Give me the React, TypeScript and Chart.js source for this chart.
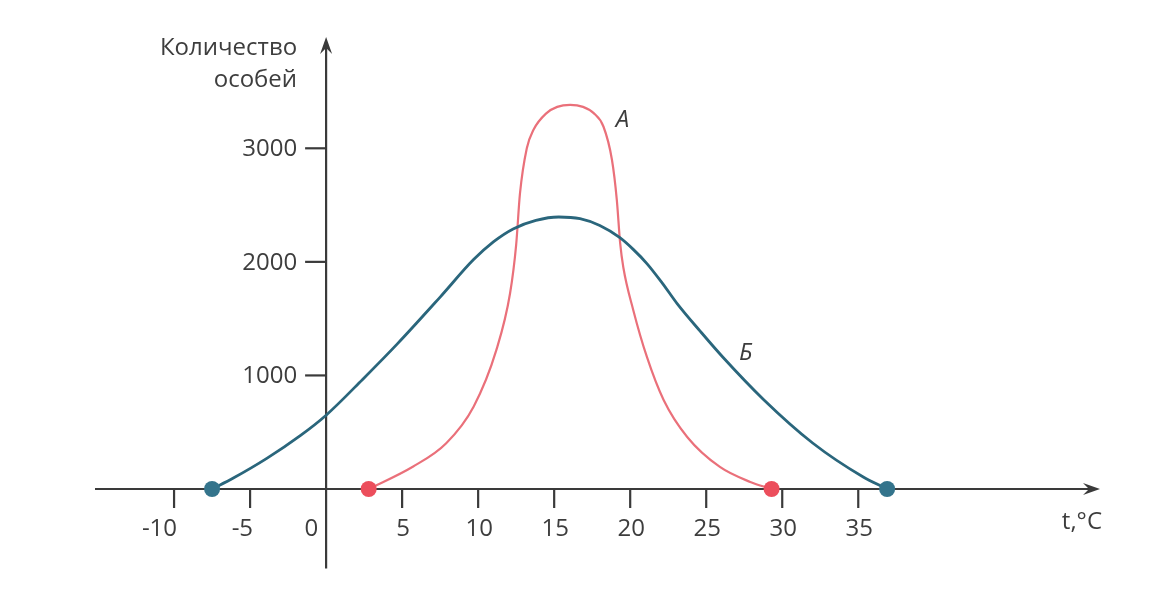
import React, { useEffect, useRef } from 'react';
import { Chart, registerables } from 'chart.js';

Chart.register(...registerables);

// Curve А (red) — narrow tolerance range
const aTemps = [2.8, 5.7, 7.9, 9.7, 11.2, 12.1, 12.5, 12.75, 13.2, 13.64, 14.5, 15.2, 16.05, 16.9, 17.6, 18.24, 18.8, 19.12, 19.34, 19.55, 20.2, 21.1, 22.2, 23.75, 25.9, 27.9, 29.3];
const aCounts = [0, 196, 403, 725, 1225, 1724, 2150, 2600, 3000, 3163, 3310, 3365, 3383, 3365, 3310, 3192, 2899, 2546, 2165, 1950, 1577, 1163, 784, 458, 194, 62, 0];

// Curve Б (blue) — wide tolerance range
const bTemps = [-7.5, -6.1, -3.9, -1.7, 0, 2.4, 4.7, 7.5, 9.7, 11.0, 12.3, 13.8, 15.3, 16.7, 18.0, 19.3, 20.2, 21.1, 22.1, 23.1, 24.6, 26.1, 28.8, 32.0, 35.3, 36.9];
const bCounts = [0, 97, 270, 470, 650, 965, 1280, 1690, 2020, 2176, 2290, 2365, 2395, 2380, 2320, 2215, 2110, 1985, 1815, 1630, 1390, 1160, 784, 405, 108, 0];

const xTickValues = [-10, -5, 0, 5, 10, 15, 20, 25, 30, 35];
const yTickValues = [1000, 2000, 3000];
const yTitleLines = ['Количество', 'особей'];
const xTitle = 't,°C';
const curveNames = ['А', 'Б'];
const curveNamePos = [
  [19.5, 3250],
  [27.6, 1200],
];

const AXIS = '#3a3a3a';
const TEXT = '#3d3d3d';
const FONT = '"Open Sans", "Noto Sans", sans-serif';
const RED = 'rgb(234, 112, 122)';
const RED_DOT = 'rgb(236, 78, 92)';
const BLUE = 'rgb(42, 102, 124)';
const BLUE_DOT = 'rgb(52, 116, 140)';

function arrowHead(ctx: CanvasRenderingContext2D, tx: number, ty: number, dir: 'right' | 'up') {
  const len = 17;
  const half = 6;
  const notch = 11;
  ctx.beginPath();
  if (dir === 'right') {
    ctx.moveTo(tx, ty);
    ctx.lineTo(tx - len, ty - half);
    ctx.lineTo(tx - notch, ty);
    ctx.lineTo(tx - len, ty + half);
  } else {
    ctx.moveTo(tx, ty);
    ctx.lineTo(tx - half, ty + len);
    ctx.lineTo(tx, ty + notch);
    ctx.lineTo(tx + half, ty + len);
  }
  ctx.closePath();
  ctx.fill();
}

const axesPlugin = {
  id: 'crossAxes',
  beforeDatasetsDraw(chart: any) {
    const { ctx, chartArea } = chart;
    const xs = chart.scales.x;
    const ys = chart.scales.y;
    const x0 = xs.getPixelForValue(0);
    const y0 = ys.getPixelForValue(0);
    ctx.save();
    ctx.strokeStyle = AXIS;
    ctx.fillStyle = AXIS;
    ctx.lineWidth = 2.2;
    ctx.lineCap = 'butt';

    // x axis
    ctx.beginPath();
    ctx.moveTo(chartArea.left, y0);
    ctx.lineTo(chartArea.right - 10, y0);
    ctx.stroke();
    arrowHead(ctx, chartArea.right, y0, 'right');

    // y axis
    ctx.beginPath();
    ctx.moveTo(x0, chartArea.bottom);
    ctx.lineTo(x0, chartArea.top + 10);
    ctx.stroke();
    arrowHead(ctx, x0, chartArea.top, 'up');

    // x ticks + labels
    ctx.font = `24px ${FONT}`;
    ctx.fillStyle = TEXT;
    ctx.textBaseline = 'middle';
    xTickValues.forEach((v) => {
      const px = xs.getPixelForValue(v);
      if (v !== 0) {
        ctx.beginPath();
        ctx.moveTo(px, y0);
        ctx.lineTo(px, y0 + 19);
        ctx.stroke();
      }
      const label = String(v);
      if (v < 0) {
        ctx.textAlign = 'right';
        ctx.fillText(label, px + 3, y0 + 40);
      } else if (v === 0) {
        ctx.textAlign = 'right';
        ctx.fillText(label, px - 8, y0 + 40);
      } else {
        ctx.textAlign = 'center';
        ctx.fillText(label, px + 1, y0 + 40);
      }
    });

    // y ticks + labels
    ctx.textAlign = 'right';
    yTickValues.forEach((v) => {
      const py = ys.getPixelForValue(v);
      ctx.beginPath();
      ctx.moveTo(x0 - 21, py);
      ctx.lineTo(x0, py);
      ctx.stroke();
      ctx.fillText(String(v), x0 - 29, py + 1);
    });

    // y title
    ctx.textBaseline = 'alphabetic';
    ctx.fillText(yTitleLines[0], x0 - 29, chartArea.top + 18);
    ctx.fillText(yTitleLines[1], x0 - 29, chartArea.top + 50);

    // x title
    ctx.textAlign = 'right';
    ctx.textBaseline = 'middle';
    ctx.fillText(xTitle, chartArea.right + 2, y0 + 33);
    ctx.restore();
  },
  afterDatasetsDraw(chart: any) {
    const { ctx } = chart;
    const xs = chart.scales.x;
    const ys = chart.scales.y;
    ctx.save();
    ctx.font = `italic 24px ${FONT}`;
    ctx.fillStyle = TEXT;
    ctx.textAlign = 'center';
    ctx.textBaseline = 'middle';
    curveNames.forEach((name, i) => {
      ctx.fillText(name, xs.getPixelForValue(curveNamePos[i][0]), ys.getPixelForValue(curveNamePos[i][1]));
    });
    ctx.restore();
  },
};

function endRadius(n: number) {
  return (c: any) => (c.dataIndex === 0 || c.dataIndex === n - 1 ? 8 : 0);
}

export default function App() {
  const ref = useRef<HTMLCanvasElement | null>(null);

  useEffect(() => {
    if (!ref.current) return;
    const chart = new Chart(ref.current, {
      type: 'line',
      data: {
        datasets: [
          {
            label: 'Б',
            data: bTemps.map((t, i) => ({ x: t, y: bCounts[i] })),
            borderColor: BLUE,
            borderWidth: 2.8,
            cubicInterpolationMode: 'monotone',
            pointRadius: endRadius(bTemps.length),
            pointBackgroundColor: BLUE_DOT,
            pointBorderWidth: 0,
            pointHoverRadius: 0,
            fill: false,
            clip: false,
          } as any,
          {
            label: 'А',
            data: aTemps.map((t, i) => ({ x: t, y: aCounts[i] })),
            borderColor: RED,
            borderWidth: 2.2,
            cubicInterpolationMode: 'monotone',
            pointRadius: endRadius(aTemps.length),
            pointBackgroundColor: RED_DOT,
            pointBorderWidth: 0,
            pointHoverRadius: 0,
            fill: false,
            clip: false,
          } as any,
        ],
      },
      options: {
        animation: false,
        responsive: true,
        maintainAspectRatio: false,
        layout: { padding: { left: 95, right: 60, top: 37, bottom: 24.5 } },
        plugins: {
          legend: { display: false },
          tooltip: { enabled: false },
        },
        events: [],
        scales: {
          x: { type: 'linear', min: -15.2, max: 50.9, display: false },
          y: { type: 'linear', min: -700, max: 3980, display: false },
        },
      },
      plugins: [axesPlugin],
    });
    return () => chart.destroy();
  }, []);

  return (
    <div style={{ position: 'absolute', left: 0, top: 0, width: 1160, height: 593, background: '#ffffff' }}>
      <canvas ref={ref} />
    </div>
  );
}
